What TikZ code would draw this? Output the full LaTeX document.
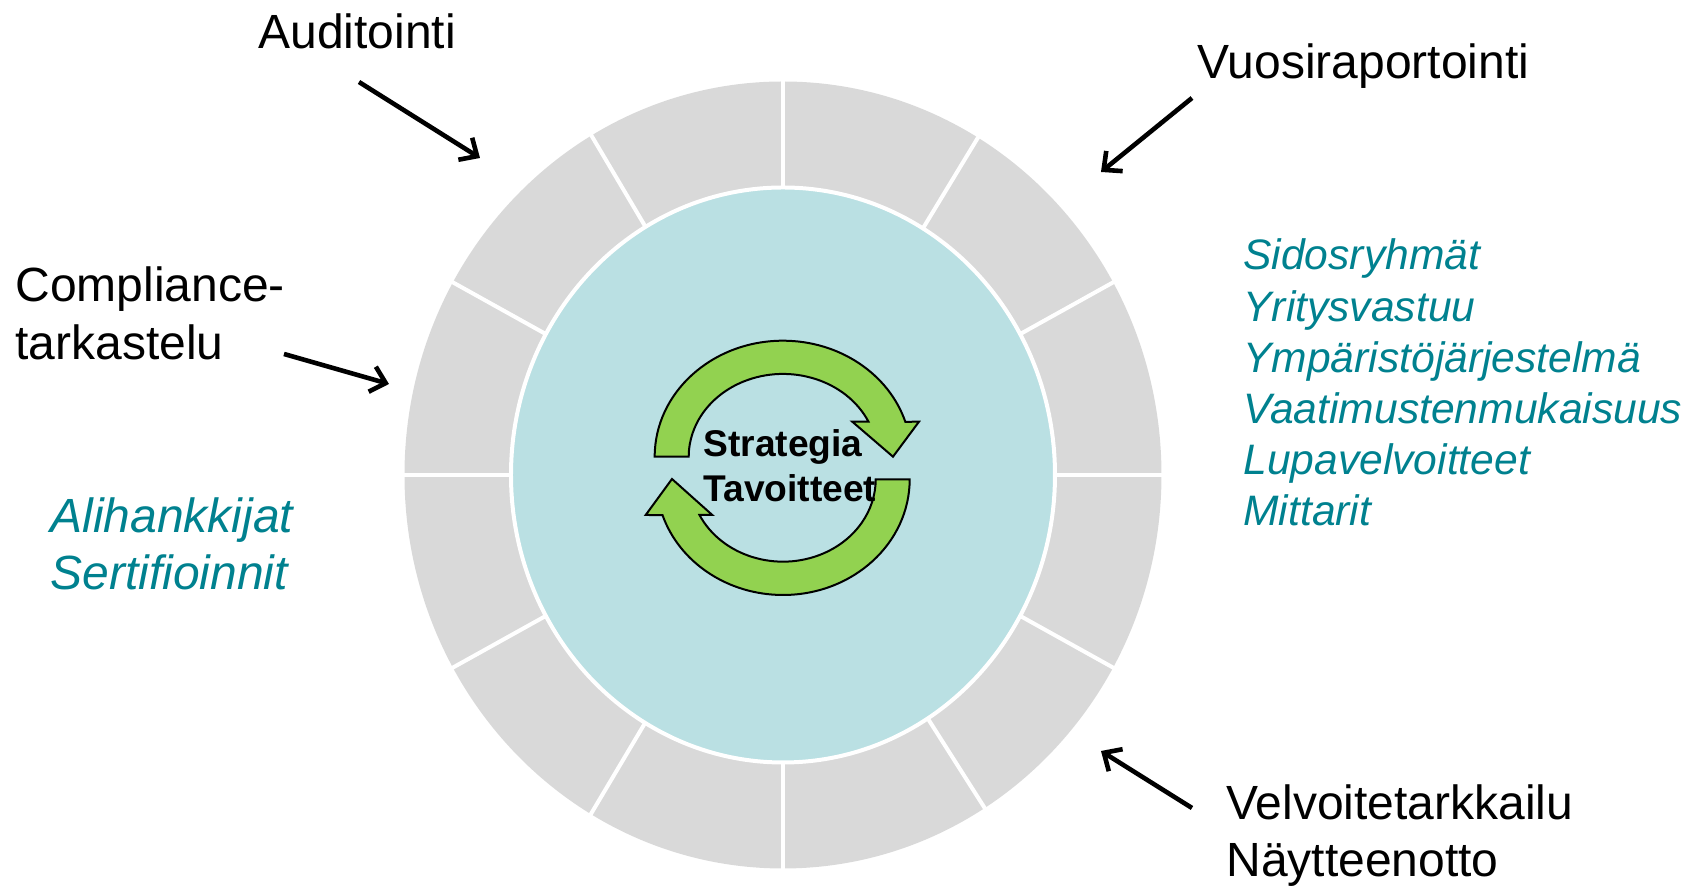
\documentclass[tikz,border=0pt]{standalone}
\usepackage{fontspec}
\setmainfont{Liberation Sans}
\usepackage{xcolor}
\usetikzlibrary{arrows.meta}
\definecolor{ringgray}{HTML}{D9D9D9}
\definecolor{coreblue}{HTML}{BAE0E3}
\definecolor{cyclegreen}{HTML}{92D250}
\definecolor{labelteal}{HTML}{00818F}
\tikzset{
    plainlabel/.style={anchor=base west, inner sep=0pt, font=\fontsize{24}{28}\selectfont},
    teallabel/.style={anchor=base west, inner sep=0pt, text=labelteal, font=\fontsize{21.3}{26}\itshape\selectfont},
    bigteal/.style={teallabel, font=\fontsize{24}{28}\itshape\selectfont},
    corelabel/.style={anchor=base west, inner sep=0pt, font=\fontsize{18.6}{22}\bfseries\selectfont},
    inarrow/.style={line width=2.3pt, -{Straight Barb[length=7pt,width=13pt,line width=2.3pt]}},
    cyclearrow/.style={draw=black, line width=1pt, fill=cyclegreen, line join=miter}
}
\begin{document}
\begin{tikzpicture}[x=0.5pt,y=0.5pt]
    \useasboundingbox (-783,-411) rectangle (905,475);

    % Ring and segments
    \fill[ringgray] (0,0) ellipse [x radius=378.5, y radius=393.5];
    \foreach \a in {0,29.3,59,90,120.4,150.7,180,209.3,239.5,270,302.2,330.7} {
        \draw[white, line width=2pt] (\a:271 and 287) -- (\a:383 and 398);
    }
    \draw[white, line width=2pt, fill=coreblue] (0,0) ellipse [x radius=272, y radius=287.5];

    % Cycle arrows
    \draw[cyclearrow] (-128.3,18.3) arc[start angle=180, end angle=17.5, x radius=128.3, y radius=116]
        -- (136,53.3) -- (110,18.3) -- (69.3,53.3) -- (85.5,53.3)
        arc[start angle=25, end angle=180, x radius=94.3, y radius=82.7] -- cycle;
    \draw[cyclearrow] (126.7,-4.3) arc[start angle=0, end angle=-162, x radius=126.7, y radius=115.7]
        -- (-137.3,-40) -- (-111,-4) -- (-70.7,-40) -- (-83.5,-40)
        arc[start angle=-154.3, end angle=0, x radius=92.7, y radius=82.4] -- cycle;

    \node[corelabel] (strategia) at (-80,18) {Strategia};
    \node[corelabel] (tavoitteet) at (-80,-26.7) {Tavoitteet};

    % Black labels
    \node[plainlabel] (auditointi) at (-525,426) {Auditointi};
    \node[plainlabel] (vuosi) at (414,396) {Vuosiraportointi};
    \node[plainlabel] (compliance) at (-768,173) {Compliance-};
    \node[plainlabel] (tarkastelu) at (-768,115) {tarkastelu};
    \node[plainlabel] (velvoite) at (443,-345) {Velvoitetarkkailu};
    \node[plainlabel] (naytteet) at (443,-402) {Näytteenotto};

    % Teal labels
    \foreach \i/\t/\y in {0/Sidosryhmät/205, 1/Yritysvastuu/153, 2/Ympäristöjärjestelmä/102, 3/Vaatimustenmukaisuus/51, 4/Lupavelvoitteet/0, 5/Mittarit/-51} {
        \node[teallabel] (list\i) at (460,\y) {\t};
    }
    \node[bigteal] (alihankkijat) at (-733,-58) {Alihankkijat};
    \node[bigteal] (sertifioinnit) at (-733,-115) {Sertifioinnit};

    % Arrows towards the ring
    \coordinate (audstart) at (-424,393);
    \coordinate (audend) at (-303,317);
    \coordinate (vuostart) at (409,377);
    \coordinate (vuoend) at (318,303);
    \coordinate (comstart) at (-499,121);
    \coordinate (comend) at (-394,91);
    \coordinate (velstart) at (409,-333);
    \coordinate (velend) at (318,-276);
    \draw[inarrow] (audstart) -- (audend);
    \draw[inarrow] (vuostart) -- (vuoend);
    \draw[inarrow] (comstart) -- (comend);
    \draw[inarrow] (velstart) -- (velend);
\end{tikzpicture}
\end{document}
